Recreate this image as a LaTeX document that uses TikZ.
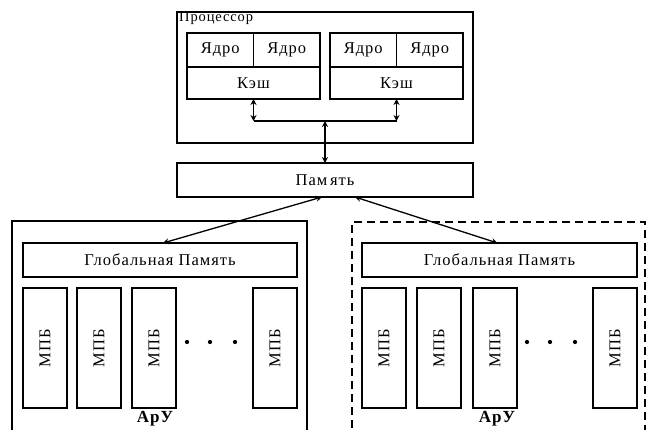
\documentclass[tikz,border=0pt]{standalone}
\usepackage{fontspec}
\setmainfont[LetterSpace=6]{Liberation Serif}
\usepackage{tikz}
\usetikzlibrary{positioning,arrows.meta}

\begin{document}
\begin{tikzpicture}[
  x=1pt, y=-1pt,
  font=\fontsize{16.5}{19}\selectfont,
  blk/.style={draw, line width=1.4pt, inner sep=0pt, outer sep=0pt, anchor=north west},
  core/.style={blk, minimum width=66.5pt, minimum height=34pt},
  mpb/.style={blk, minimum width=44pt, minimum height=120pt},
  dbl/.style={{Stealth[length=6pt,width=6pt]}-{Stealth[length=6pt,width=6pt]}, line width=1.3pt},
  dot/.style={circle, fill, inner sep=1.5pt}
]
\useasboundingbox (0,0) rectangle (646,429);
\clip (0,0) rectangle (646,429);

% processor
\node[blk, minimum width=296pt, minimum height=131pt] (cpu) at (177,12) {};
\node[anchor=north west, inner sep=0pt, font=\fontsize{14.5}{16}\selectfont] (cpulbl) at (179,12) {Процессор};
\node[core] (coreA) at (187,33) {Ядро};
\node[core, right=0pt of coreA] (coreB) {Ядро};
\node[blk, minimum width=133pt, minimum height=32pt] (cacheL) at (187,67) {Кэш};
\node[core] (coreC) at (330,33) {Ядро};
\node[core, right=0pt of coreC] (coreD) {Ядро};
\node[blk, minimum width=133pt, minimum height=32pt] (cacheR) at (330,67) {Кэш};

% shared memory
\node[blk, minimum width=296pt, minimum height=34pt] (mem) at (177,163) {Пам\,ять};
\coordinate (bus) at (325,121);

\draw[dbl] (cacheL.south) -- (cacheL.south |- bus);
\draw[dbl] (cacheR.south) -- (cacheR.south |- bus);
\draw[line width=1.3pt] (cacheL.south |- bus) -- (cacheR.south |- bus);
\draw[dbl] (bus) -- (mem.north);

% left ApU
\node[blk, minimum width=295pt, minimum height=230pt] (apuL) at (12,221) {};
\node[blk, minimum width=274pt, minimum height=34pt] (gmL) at (23,243) {Глобальная Память};
\node[mpb] (mL1) at (23,288) {\rotatebox{90}{МПБ}};
\node[mpb] (mL2) at (77,288) {\rotatebox{90}{МПБ}};
\node[mpb] (mL3) at (132,288) {\rotatebox{90}{МПБ}};
\node[mpb] (mL4) at (253,288) {\rotatebox{90}{МПБ}};
\node[dot] (dL1) at (187,342) {};
\node[dot] (dL2) at (210,342) {};
\node[dot] (dL3) at (235,342) {};
\node[font=\fontsize{17}{19}\selectfont\bfseries] (apuLlbl) at (155,419) {АрУ};

% right ApU
\node[blk, dash pattern=on 8pt off 5pt, minimum width=293pt, minimum height=230pt] (apuR) at (352,222) {};
\node[blk, minimum width=275pt, minimum height=34pt] (gmR) at (362,243) {Глобальная Память};
\node[mpb] (mR1) at (362,288) {\rotatebox{90}{МПБ}};
\node[mpb] (mR2) at (417,288) {\rotatebox{90}{МПБ}};
\node[mpb] (mR3) at (473,288) {\rotatebox{90}{МПБ}};
\node[mpb] (mR4) at (593,288) {\rotatebox{90}{МПБ}};
\node[dot] (dR1) at (527,342) {};
\node[dot] (dR2) at (550,342) {};
\node[dot] (dR3) at (575,342) {};
\node[font=\fontsize{17}{19}\selectfont\bfseries] (apuRlbl) at (497,419) {АрУ};

\draw[dbl] ([xshift=-3pt]mem.south) -- ([xshift=3pt]gmL.north);
\draw[dbl] ([xshift=30pt]mem.south) -- ([xshift=-2pt]gmR.north);
\end{tikzpicture}
\end{document}
